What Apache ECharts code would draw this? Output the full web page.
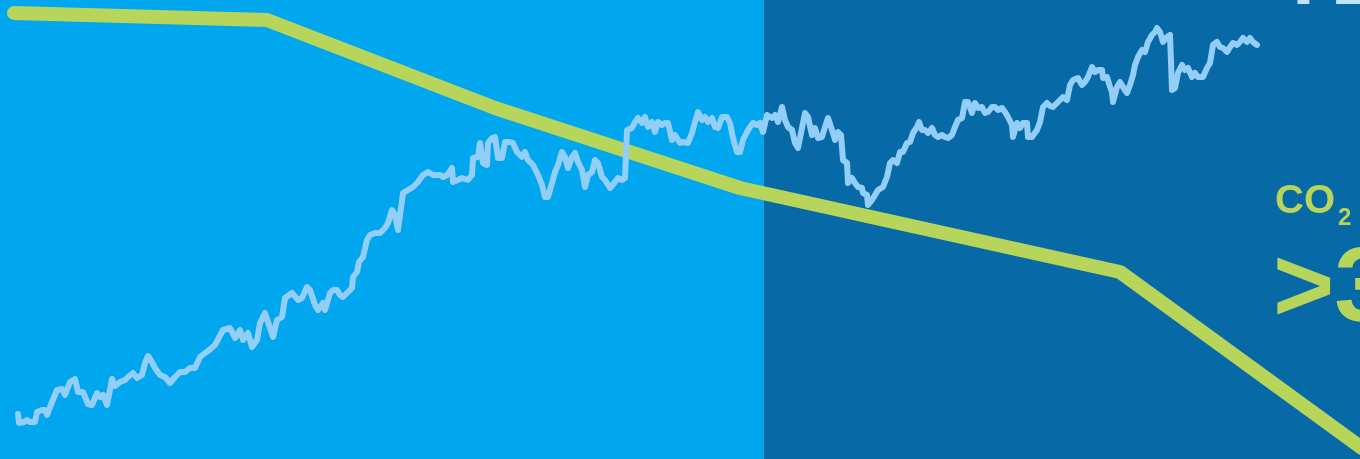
<!DOCTYPE html>
<html>
<head>
<meta charset="utf-8">
<script src="https://cdn.jsdelivr.net/npm/echarts@6/dist/echarts.min.js"></script>
<style>
html,body{margin:0;padding:0;background:#00A6EE;}
#c{width:1360px;height:459px;}
</style>
</head>
<body>
<div id="c"></div>
<script>
// Background bands (x ranges)
const bands = [[0, 764], [764, 1360]];
const bandColors = ['#00A6EE', '#0769A6'];

// Green (CO2) path
const greenLine = [[14, 13], [267, 20], [495, 108], [740, 188], [1120, 272], [1362, 448]];

// Light blue noisy series
const blueLine = [
[18,414],[19,423],[24,422],[27,420],[30,422],[35,422],[37,412],[42,410],[45,410],[47,415],[52,402],[57,390],[62,389],[65,395],[70,382],[75,379],[78,392],[83,392],[88,404],[92,405],[97,393],[100,397],[103,395],[107,405],[112,379],[115,386],[120,382],[125,380],[128,377],[133,373],[137,378],[142,375],[145,363],[148,356],[152,362],[155,368],[160,375],[165,377],[170,383],[175,377],[180,372],[185,372],[190,368],[195,368],[200,357],[205,353],[208,351],
[215,345],[223,330],[230,328],[235,338],[240,330],[243,340],[248,333],[252,347],[257,340],[260,323],[265,313],[268,322],[273,337],[277,320],[282,317],[285,298],[292,293],[298,300],[302,298],[307,287],[310,290],[315,305],[318,310],[323,303],[325,310],[330,293],[333,290],[337,290],[340,295],[343,297],[347,293],[352,288],[353,277],[357,272],[359,262],[363,257],[367,240],[370,235],[375,233],[380,233],[385,228],[388,223],[392,210],[395,215],[398,230],[400,232],[403,193],[408,190],[413,187],[418,182],
[423,175],[428,172],[433,175],[440,175],[443,177],[447,175],[452,168],[453,182],[458,180],[462,178],[468,180],[472,175],[473,158],[478,157],[480,143],[483,163],[487,165],[488,143],[492,138],[495,137],[498,158],[502,158],[505,142],[510,142],[513,143],[517,152],[522,157],[525,152],[528,160],[533,165],[538,175],[542,185],[545,197],[548,197],[552,183],[555,172],[558,165],[562,152],[565,157],[568,168],[572,157],[575,153],[578,162],[582,170],[585,187],[588,175],[592,172],[595,160],[598,163],[602,177],[605,180],[610,188],[615,182],[618,178],[622,180],[625,178],
[627,130],[632,128],[635,122],[638,118],[642,123],[645,117],[648,127],[652,122],[655,132],[658,122],[662,125],[665,123],[668,123],[672,140],[675,135],[680,143],[683,142],[688,143],[692,133],[695,122],[698,112],[702,120],[705,117],[708,122],[712,118],[715,127],[718,128],[722,117],[727,117],[730,123],[733,138],[737,152],[740,152],[743,140],[747,132],[750,127],[753,123],[757,125],[760,123],[763,132],[767,115],[772,118],[775,115],[778,122],[782,107],[785,120],[788,127],[792,130],[795,143],[798,148],[802,128],[805,113],[808,117],[812,135],[815,128],[818,138],[822,137],[825,127],[828,118],
[832,130],[835,140],[838,132],[841,135],[843,160],[847,163],[848,183],[852,178],[855,183],[858,187],[862,188],[863,193],[867,195],[868,205],[872,200],[875,195],[878,190],[883,187],[887,177],[890,163],[893,160],[897,163],[900,152],[903,152],[907,143],[910,142],[913,133],[917,127],[919,122],[922,130],[925,130],[928,133],[932,128],[935,135],[938,137],[942,135],[945,137],[948,138],[952,135],[955,127],[958,120],[962,118],[965,102],[968,102],[972,113],[975,103],[978,108],[982,107],[985,113],[988,112],[992,107],[995,107],[998,110],[1002,108],[1005,112],[1008,117],[1012,125],[1013,137],[1017,123],[1020,128],[1023,123],[1027,123],[1028,137],[1032,137],[1037,130],[1040,122],[1043,107],[1047,103],[1050,106],
[1053,107],[1057,103],[1060,100],[1063,97],[1067,100],[1070,85],[1073,80],[1078,78],[1082,85],[1085,82],[1088,77],[1092,67],[1095,72],[1098,70],[1102,70],[1103,78],[1107,77],[1110,87],[1112,92],[1113,102],[1117,87],[1120,82],[1123,87],[1127,93],[1130,85],[1133,75],[1135,65],[1138,57],[1142,50],[1145,52],[1148,42],[1152,35],[1155,32],[1157,28],[1160,32],[1163,42],[1167,37],[1170,35],[1172,90],[1175,88],[1178,73],[1182,65],[1185,70],[1188,68],[1192,77],[1195,73],[1198,77],[1203,77],[1207,68],[1210,63],[1213,45],[1217,42],[1220,47],[1223,48],[1227,52],[1230,47],[1233,43],[1237,45],[1240,42],[1243,38],[1247,42],[1250,38],[1253,42],[1257,45]
];

// Text labels
const labelCO = 'CO';
const labelSub = '2';
const labelBig = '>3';
const labelTop1 = '4';
const labelTop2 = '2';

const chart = echarts.init(document.getElementById('c'), null, {renderer: 'canvas'});
const font = '"Liberation Sans", Arial, sans-serif';
chart.setOption({
  animation: false,
  backgroundColor: '#00A6EE',
  grid: {left: 0, right: 0, top: 0, bottom: 0},
  xAxis: {type: 'value', min: 0, max: 1360, show: false},
  yAxis: {type: 'value', min: 0, max: 459, inverse: true, show: false},
  series: [
    {
      type: 'line',
      data: greenLine,
      symbol: 'none',
      z: 2,
      lineStyle: {color: '#B7D55B', width: 14, cap: 'round', join: 'round'},
      markArea: {
        silent: true,
        z: 0,
        data: bands.map((b, i) => [
          {xAxis: b[0], yAxis: 0, itemStyle: {color: bandColors[i]}},
          {xAxis: b[1], yAxis: 459}
        ])
      }
    },
    {
      type: 'line',
      data: blueLine,
      symbol: 'none',
      z: 3,
      lineStyle: {color: '#92CEF8', width: 6, cap: 'round', join: 'round'}
    }
  ],
  graphic: [
    {type: 'text', x: 1275, y: 202, z: 10,
     style: {text: labelCO, fill: '#B7D55B', font: 'bold 40px ' + font, verticalAlign: 'middle', align: 'left'}},
    {type: 'text', x: 1338, y: 218, z: 10,
     style: {text: labelSub, fill: '#B7D55B', font: 'bold 24px ' + font, verticalAlign: 'middle', align: 'left'}},
    {type: 'text', x: 1273, y: 292, z: 10,
     style: {text: labelBig, fill: '#B7D55B', font: 'bold 105px ' + font, verticalAlign: 'middle', align: 'left'}},
    {type: 'text', x: 1268, y: -21, z: 10,
     style: {text: labelTop1, fill: '#BEE3FA', font: 'bold 90px ' + font, verticalAlign: 'middle', align: 'left'}},
    {type: 'text', x: 1333, y: -21, z: 10,
     style: {text: labelTop2, fill: '#BEE3FA', font: 'bold 90px ' + font, verticalAlign: 'middle', align: 'left'}}
  ]
});
</script>
</body>
</html>
